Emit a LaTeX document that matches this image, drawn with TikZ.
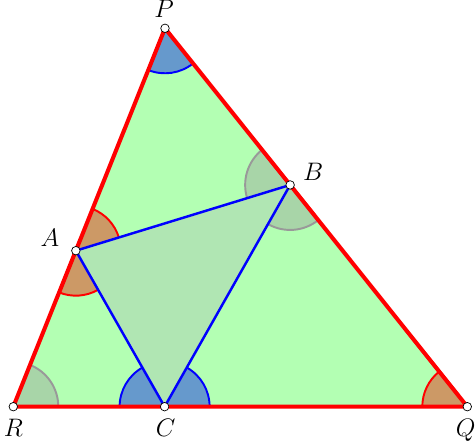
\documentclass[tikz,border=0pt]{standalone}
\usetikzlibrary{calc}
\definecolor{bigfill}{HTML}{B3FFB3}
\definecolor{innerfill}{HTML}{B0E6B3}
\definecolor{bluewedge}{HTML}{6699CC}
\definecolor{orangewedge}{HTML}{CC9966}
\definecolor{greywedge}{HTML}{A8D5A8}
\definecolor{greystroke}{HTML}{999999}
\definecolor{sidered}{HTML}{FF0000}
\definecolor{sideblue}{HTML}{0000FF}
\newcommand\angwedge[5]{%
  \fill[#4] let \p1=($(#2)-(#1)$), \p2=($(#3)-(#1)$),
    \n1={atan2(\y1,\x1)}, \n2={mod(atan2(\y2,\x2)-atan2(\y1,\x1)+720,360)} in
    (#1) -- ++(\n1:0.9) arc[start angle=\n1, delta angle=\n2, radius=0.9] -- cycle;
  \draw[#5, line width=1.1pt] let \p1=($(#2)-(#1)$), \p2=($(#3)-(#1)$),
    \n1={atan2(\y1,\x1)}, \n2={mod(atan2(\y2,\x2)-atan2(\y1,\x1)+720,360)} in
    ($(#1)+(\n1:0.9)$) arc[start angle=\n1, delta angle=\n2, radius=0.9];}
\begin{document}
\begin{tikzpicture}[
  pt/.style={circle, draw=black, fill=white, line width=0.4pt, inner sep=0pt, minimum size=0.17cm},
  lbl/.style={font=\fontsize{13.5}{15}\selectfont, inner sep=0pt},
  redside/.style={sidered, line width=2.3pt, line join=round},
  blueside/.style={sideblue, line width=1.4pt, line join=round}]
\useasboundingbox (0,0) rectangle (9.52,8.9);
\coordinate (P) at (3.30,8.334);
\coordinate (Q) at (9.346,0.766);
\coordinate (R) at (0.266,0.766);
\coordinate (A) at ($(P)!0.5877!(R)$);
\coordinate (B) at ($(P)!0.414!(Q)$);
\coordinate (C) at ($(R)!0.3333!(Q)$);
% big triangle
\fill[bigfill] (P) -- (Q) -- (R) -- cycle;
% angle wedges
\angwedge{P}{R}{Q}{bluewedge}{sideblue}
\angwedge{Q}{P}{R}{orangewedge}{sidered}
\angwedge{R}{Q}{P}{greywedge}{greystroke}
\angwedge{A}{B}{P}{orangewedge}{sidered}
\angwedge{A}{R}{C}{orangewedge}{sidered}
\angwedge{B}{P}{A}{greywedge}{greystroke}
\angwedge{B}{C}{Q}{greywedge}{greystroke}
\angwedge{C}{A}{R}{bluewedge}{sideblue}
\angwedge{C}{Q}{B}{bluewedge}{sideblue}
% inner triangle
\fill[innerfill] (A) -- (B) -- (C) -- cycle;
\draw[blueside] (A) -- (B) -- (C) -- cycle;
\draw[redside] (P) -- (Q) -- (R) -- cycle;
% points
\node[pt] (nP) at (P) {};
\node[pt] (nQ) at (Q) {};
\node[pt] (nR) at (R) {};
\node[pt] (nA) at (A) {};
\node[pt] (nB) at (B) {};
\node[pt] (nC) at (C) {};
% labels
\node[lbl] (lP) at ($(P)+(-0.02,0.38)$) {$P$};
\node[lbl] (lB) at ($(B)+(0.46,0.27)$) {$B$};
\node[lbl] (lA) at ($(A)+(-0.52,0.26)$) {$A$};
\node[lbl] (lR) at ($(R)+(0,-0.43)$) {$R$};
\node[lbl] (lC) at ($(C)+(0.02,-0.43)$) {$C$};
\node[lbl] (lQ) at ($(Q)+(-0.03,-0.47)$) {$Q$};
\end{tikzpicture}
\end{document}
